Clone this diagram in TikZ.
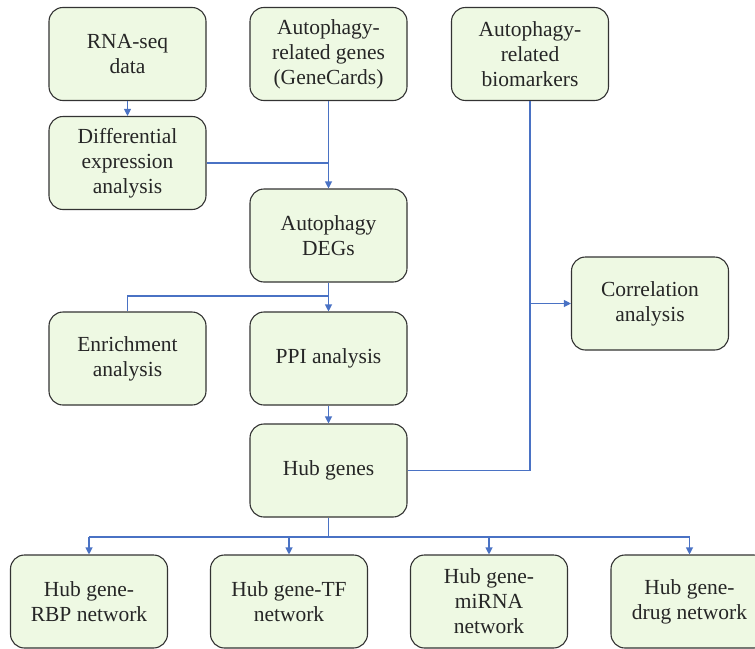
\documentclass[tikz,border=0pt]{standalone}
\usepackage{fontspec}
\setmainfont{Liberation Serif}
\usetikzlibrary{arrows.meta}
\definecolor{boxfill}{HTML}{EEF9E3}
\definecolor{boxline}{HTML}{333333}
\definecolor{conn}{HTML}{4A72C4}
\begin{document}
\begin{tikzpicture}[x=1pt,y=-1pt,
  box/.style={draw=boxline, line width=1.1pt, fill=boxfill, rounded corners=14pt,
    minimum width=157pt, minimum height=93pt, inner sep=2pt, align=center,
    font=\fontsize{21.5}{25}\selectfont, text=black!85},
  link/.style={draw=conn, line width=1.1pt},
  arr/.style={link, -{Triangle[length=7pt,width=7pt]}}]
\useasboundingbox (0,0) rectangle (755,648);
\node[box] (rna) at (127.5,54) {RNA-seq\\data};
\node[box] (diff) at (127.5,163) {Differential\\expression\\analysis};
\node[box] (gc) at (328.5,54) {Autophagy-\\related genes\\(GeneCards)};
\node[box] (bio) at (530,54) {Autophagy-\\related\\biomarkers};
\node[box] (dg) at (328.5,235.5) {Autophagy\\DEGs};
\node[box] (enr) at (127.5,358.5) {Enrichment\\analysis};
\node[box] (ppi) at (328.5,358.5) {PPI analysis};
\node[box] (corr) at (650,303.5) {Correlation\\analysis};
\node[box] (hub) at (328.5,470.5) {Hub genes};
\node[box] (rbp) at (89,601.5) {Hub gene-\\RBP network};
\node[box] (tf) at (289,601.5) {Hub gene-TF\\network};
\node[box] (mir) at (489,601.5) {Hub gene-\\miRNA\\network};
\node[box] (drug) at (689.5,601.5) {Hub gene-\\drug network};

\coordinate (j1) at (328.5,163);
\coordinate (j2) at (328.5,296);
\coordinate (j3) at (530,303.5);
\coordinate (j4) at (530,470.5);
\coordinate (j5) at (328.5,537);
\coordinate (bl) at (89,537);
\coordinate (br) at (689.5,537);

\draw[arr] (rna) -- (diff);
\draw[link] (diff.east) -- (j1);
\draw[arr] (gc) -- (dg);
\draw[arr] (dg) -- (ppi);
\draw[link] (j2) -| (enr.north);
\draw[link] (bio.south) -- (j4) -- (hub.east);
\draw[arr] (j3) -- (corr.west);
\draw[arr] (ppi) -- (hub);
\draw[link] (hub.south) -- (j5);
\draw[link] (bl) -- (br);
\draw[arr] (bl) -- (rbp.north);
\draw[arr] (tf.north |- bl) -- (tf.north);
\draw[arr] (mir.north |- bl) -- (mir.north);
\draw[arr] (br) -- (drug.north);
\end{tikzpicture}
\end{document}
